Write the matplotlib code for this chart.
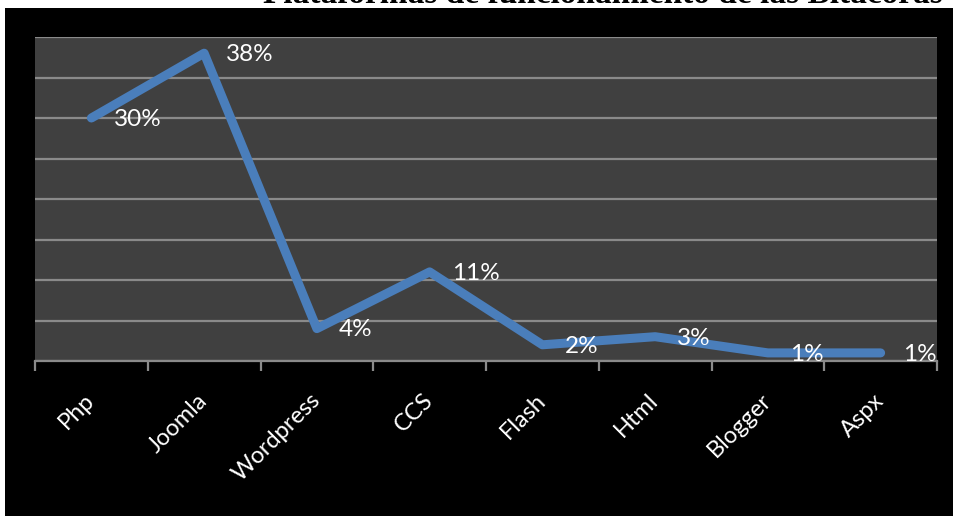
import matplotlib.pyplot as plt
from matplotlib.patches import Rectangle
from matplotlib.ticker import MultipleLocator, FixedLocator

categories = ['Php', 'Joomla', 'Wordpress', 'CCS', 'Flash', 'Html', 'Blogger', 'Aspx']
values = [30, 38, 4, 11, 2, 3, 1, 1]
labels = ['30%', '38%', '4%', '11%', '2%', '3%', '1%', '1%']
title = 'Plataformas de funcionamiento de las Bitácoras'

W, H = 954, 518
fig = plt.figure(figsize=(W / 100, H / 100), dpi=100, facecolor='white')

# black panel behind the chart
fig.patches.append(Rectangle((5 / W, 2 / H), 1, 1 - 10 / H, transform=fig.transFigure,
                             facecolor='black', edgecolor='none', zorder=-5))

# title, mostly cut off at the top (as in the source image)
fig.text(603 / W, 1 - 3 / H, title, ha='center', va='baseline', color='black',
         family='Liberation Serif', fontweight='bold', fontsize=24, zorder=5)

ax = fig.add_axes([35 / W, (H - 361) / H, 902 / W, 324 / H])
ax.set_facecolor('#404040')
x = [i + 0.5 for i in range(len(categories))]
ax.plot(x, values, color='#4a7ebb', lw=6.5, solid_capstyle='round',
        solid_joinstyle='round', zorder=3)

for xi, v, t in zip(x, values, labels):
    ax.annotate(t, (xi, v), xytext=(16, -1), textcoords='offset points',
                ha='left', va='center', color='white', fontsize=17.5, family='Lato',
                zorder=4)

ax.set_xlim(0, 8)
ax.set_ylim(0, 40)
ax.yaxis.set_major_locator(MultipleLocator(5))
ax.tick_params(axis='y', left=False, labelleft=False)
ax.grid(axis='y', color='#8a8a8a', lw=1.6)
ax.set_axisbelow(True)

ax.xaxis.set_major_locator(FixedLocator(x))
ax.set_xticklabels(categories, rotation=45, ha='right', va='center',
                   rotation_mode='anchor', color='white', fontsize=17, family='Lato')
ax.xaxis.set_minor_locator(FixedLocator(range(9)))
ax.tick_params(axis='x', which='major', length=0, pad=26)
ax.tick_params(axis='x', which='minor', length=7, width=1.6, color='#8a8a8a')

for s in ['top', 'left', 'right']:
    ax.spines[s].set_visible(False)
ax.spines['bottom'].set_color('#8a8a8a')
ax.spines['bottom'].set_linewidth(1.6)

fig.savefig('out.png', dpi=100, facecolor='white')
